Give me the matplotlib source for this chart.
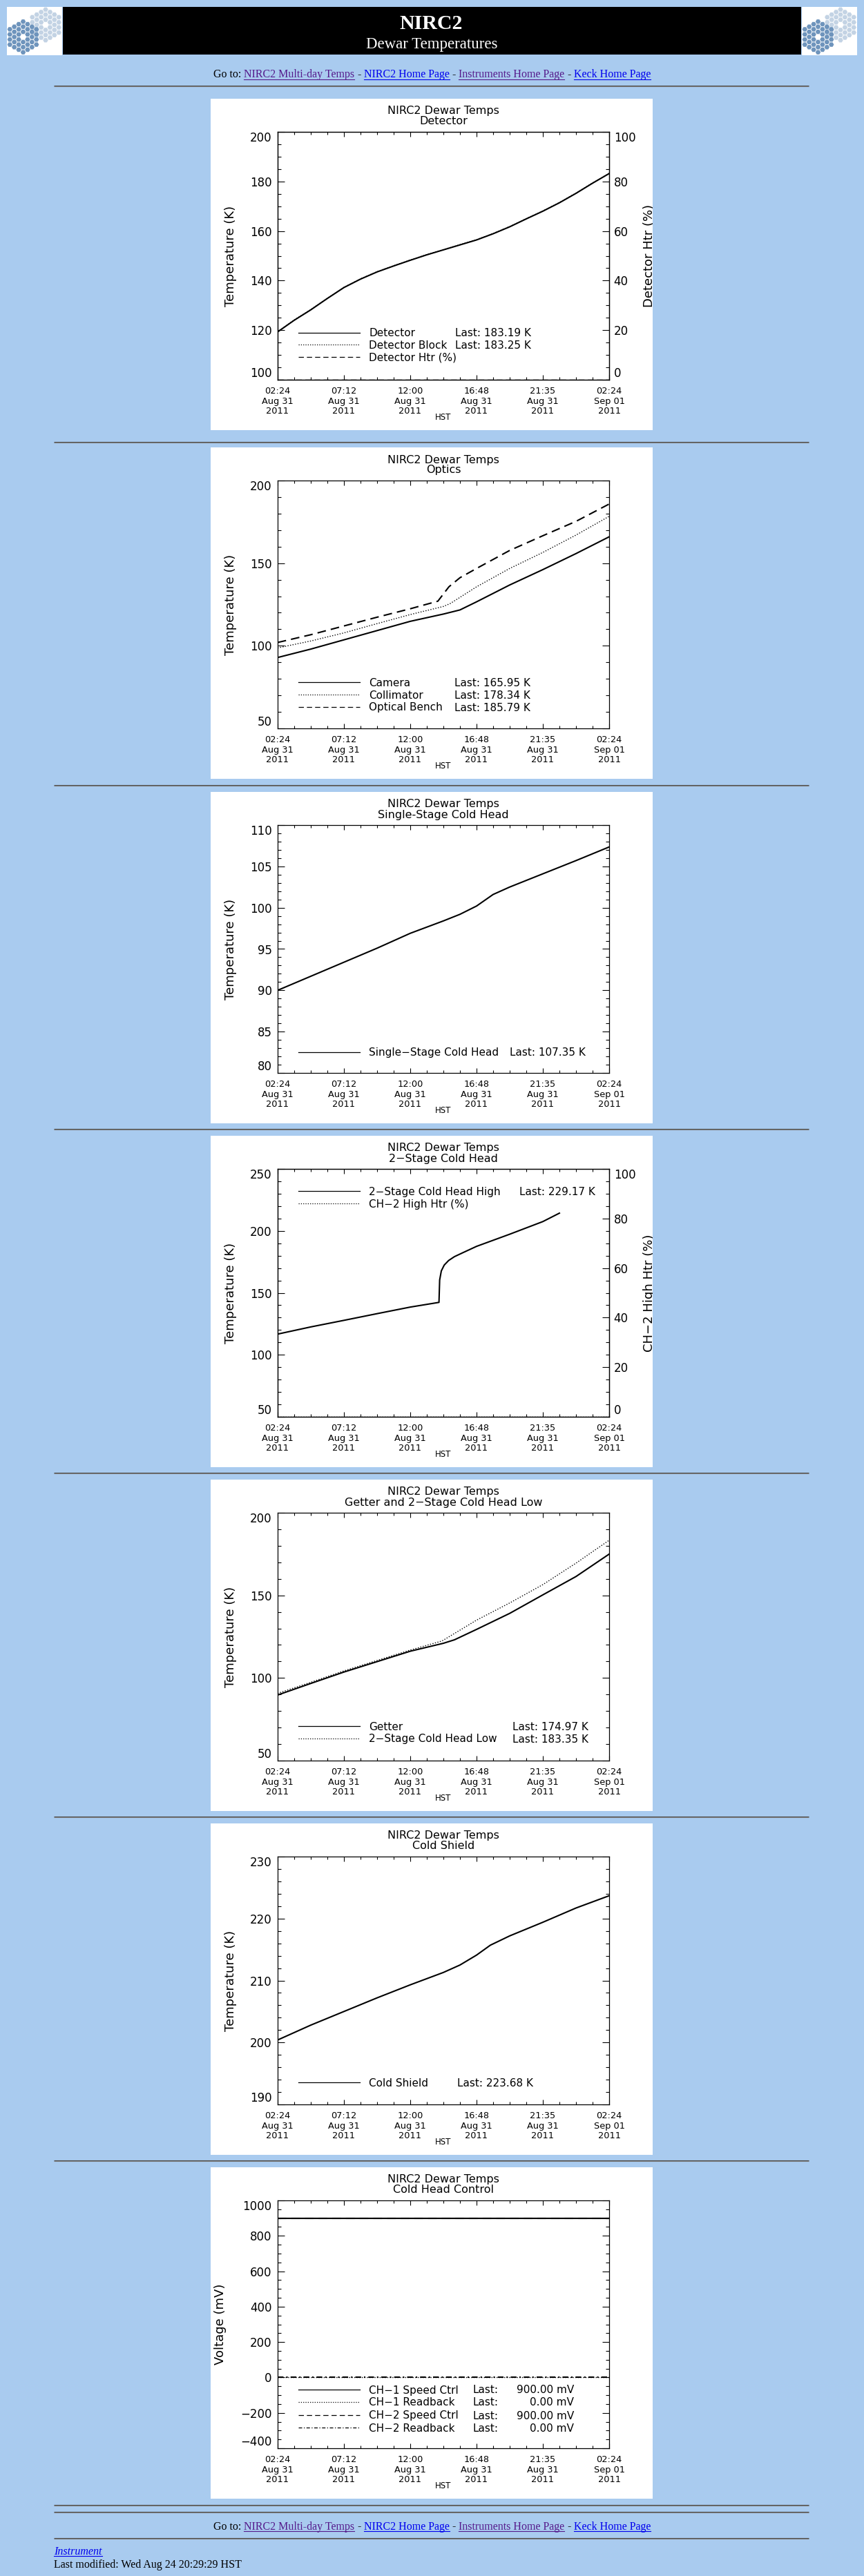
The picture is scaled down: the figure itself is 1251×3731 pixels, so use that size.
# NIRC2 Dewar Temperatures: pagina web con 7 graficos IDL de 640x480.
import numpy as np
import matplotlib
matplotlib.use("Agg")
import matplotlib.pyplot as plt
from matplotlib.patches import Rectangle, RegularPolygon
from matplotlib.ticker import FixedLocator, MultipleLocator

# 1. Datos (horas desde 02:24 HST del 31 ago 2011).
hours_tick = [0, 4.8, 9.6, 14.4, 19.2, 24]
tick_labels = ["02:24\nAug 31\n2011", "07:12\nAug 31\n2011", "12:00\nAug 31\n2011",
               "16:48\nAug 31\n2011", "21:35\nAug 31\n2011", "02:24\nSep 01\n2011"]

det_hours = [0, 1.2, 2.4, 3.6, 4.8, 6.0, 7.2, 8.4, 9.6, 10.8, 12.0,
             13.2, 14.4, 15.6, 16.8, 18.0, 19.2, 20.4, 21.6, 22.8, 24.0]
detector = [119.3, 124.0, 128.2, 132.8, 137.2, 140.6, 143.5, 145.9, 148.2, 150.4, 152.4,
            154.4, 156.4, 158.9, 161.7, 164.9, 168.0, 171.4, 175.2, 179.3, 183.19]
detector_block = [119.4, 124.1, 128.3, 132.9, 137.3, 140.7, 143.6, 146.0, 148.3, 150.5, 152.5,
                  154.5, 156.5, 159.0, 161.8, 165.0, 168.1, 171.5, 175.3, 179.4, 183.25]
htr_hours = [0, 24]
detector_htr = [0, 0]

cam_hours = [0, 2.4, 4.8, 7.2, 9.6, 12.0, 13.2, 14.4, 16.8, 19.2, 21.6, 24.0]
camera = [92.9, 98.0, 103.6, 109.2, 114.8, 119.2, 121.7, 126.6, 136.8, 146.1, 155.8, 165.95]
col_hours = [0, 2.4, 4.8, 7.2, 9.6, 12.0, 12.5, 14.4, 16.8, 19.2, 21.6, 24.0]
collimator = [98.7, 102.9, 107.8, 113.4, 118.9, 123.8, 125.6, 135.7, 146.8, 156.5, 167.0, 178.34]
bench_hours = [0, 2.4, 4.8, 7.2, 9.6, 11.6, 12.4, 13.2, 14.4, 16.8, 19.2, 21.6, 24.0]
optical_bench = [102.0, 106.7, 112.0, 117.3, 122.4, 127.0, 135.7, 141.2, 146.8, 157.7, 166.6, 175.3, 185.79]

ss_hours = [0, 2.4, 4.8, 7.2, 9.6, 12.0, 13.2, 14.4, 15.6, 16.8, 19.2, 21.6, 24.0]
single_stage = [90.0, 91.7, 93.4, 95.1, 96.9, 98.4, 99.2, 100.2, 101.6, 102.5, 104.1, 105.7, 107.35]

ts_hours = [0, 2.4, 4.8, 7.2, 9.6, 11.68, 11.73, 11.85, 12.06, 12.38, 12.8, 13.43,
            14.4, 16.8, 19.2, 20.4]
two_stage_high = [116.7, 122.5, 127.8, 133.2, 138.5, 142.3, 160.4, 167.7, 172.4, 176.1, 179.2, 182.5,
                  187.5, 197.3, 207.5, 214.3]
two_stage_high_last = 229.17
ch2_htr = [0, 0]

get_hours = [0, 2.4, 4.8, 7.2, 9.6, 12.0, 12.8, 14.4, 16.8, 19.2, 21.6, 24.0]
getter = [89.7, 96.7, 103.6, 109.9, 116.2, 121.0, 123.1, 129.4, 139.1, 150.3, 161.4, 174.97]
low_hours = [0, 2.4, 4.8, 7.2, 9.6, 11.9, 14.4, 16.8, 19.2, 21.6, 24.0]
two_stage_low = [90.7, 97.4, 104.3, 110.6, 116.9, 122.4, 135.0, 145.4, 156.5, 169.5, 183.35]

cs_hours = [0, 2.4, 4.8, 7.2, 9.6, 12.0, 13.2, 14.4, 15.4, 16.8, 19.2, 21.6, 24.0]
cold_shield = [200.4, 202.8, 205.0, 207.2, 209.3, 211.3, 212.5, 214.1, 215.7, 217.2, 219.4, 221.7, 223.68]

ctrl_hours = [0, 24]
ch1_speed = [900, 900]
ch1_readback = [0, 0]
ch2_speed = [900, 900]
ch2_readback = [0, 0]

# 2. Pagina.
W, H = 1251, 3731
BG = "#A9CBEF"
SERIF = "Liberation Serif"
fig = plt.figure(figsize=(W / 100, H / 100), dpi=100)
fig.patch.set_facecolor(BG)
renderer = fig.canvas.get_renderer()


def rect(x, y, w, h):
    return [x / W, 1 - (y + h) / H, w / W, h / H]


page = fig.add_axes([0, 0, 1, 1])
page.set_xlim(0, W)
page.set_ylim(H, 0)
page.axis("off")


def hr(y):
    page.plot([78, 1171], [y, y], color="#4e4e4e", lw=0.8, solid_capstyle="butt")
    page.plot([78, 1171], [y + 1.0, y + 1.0], color="#7c7c7c", lw=0.8, solid_capstyle="butt")


def text_width(s, size, style):
    t = page.text(0, 0, s, fontsize=size, family=SERIF, style=style)
    w = t.get_window_extent(renderer).width
    t.remove()
    return w


def inline(y, parts, x=None, size=11.5):
    gap = 4.0
    widths = [text_width(p[0], size, p[2]) for p in parts]
    total = sum(widths) + gap * (len(parts) - 1)
    if x is None:
        x = W / 2 - total / 2
    for (s, col, style, und), w in zip(parts, widths):
        page.text(x, y, s, color=col, fontsize=size, family=SERIF, style=style,
                  ha="left", va="baseline")
        if und:
            page.plot([x, x + w], [y + 2, y + 2], color=col, lw=0.8)
        x += w + gap


VISITED, LINK = "#551A8B", "#0000EE"
goto = [("Go to:", "black", "normal", False),
        ("NIRC2 Multi-day Temps", VISITED, "normal", True),
        ("-", "black", "normal", False),
        ("NIRC2 Home Page", LINK, "normal", True),
        ("-", "black", "normal", False),
        ("Instruments Home Page", VISITED, "normal", True),
        ("-", "black", "normal", False),
        ("Keck Home Page", LINK, "normal", True)]


def mirror(cx, cy, color, clip):
    R = 4.27
    for q in range(-3, 4):
        for r in range(-3, 4):
            s = -q - r
            if max(abs(q), abs(r), abs(s)) > 3 or (q == 0 and r == 0):
                continue
            hx = cx + 1.5 * R * q
            hy = cy + np.sqrt(3) * R * (r + q / 2)
            h = RegularPolygon((hx, hy), 6, radius=3.7, orientation=np.pi / 6,
                               facecolor=color, edgecolor="none")
            page.add_patch(h)
            h.set_clip_path(clip)


# 2.1. Cabecera.
page.add_patch(Rectangle((91, 10), 1069, 69, facecolor="black", edgecolor="none"))
for lx in (10, 1161):
    box = Rectangle((lx, 10), 80, 70, facecolor="white", edgecolor="none")
    page.add_patch(box)
    mirror(lx + 56, 36, "#C3D3E4", box)
    mirror(lx + 23.5, 53.5, "#6E94BC", box)
page.text(624, 41.7, "NIRC2", color="white", fontsize=21.5, family=SERIF,
          weight="bold", ha="center", va="baseline")
page.text(625, 70, "Dewar Temperatures", color="white", fontsize=16.5, family=SERIF,
          ha="center", va="baseline")
inline(112.5, goto)
hr(124)

# 3. Graficos.
PX, PW, PH = 305, 640, 480
AX_L, AX_T, AX_W, AX_H = 97, 48, 480, 359
STYLES = {"solid": dict(ls="-"), "dot": dict(ls=":"),
          "dash": dict(dashes=(6, 3.5)), "dashdot": dict(dashes=(4, 2, 1, 2))}

panels = [
    dict(top=143, sub="Detector", ylabel="Temperature (K)", ylim=(100, 200),
         yticks=[100, 120, 140, 160, 180, 200], yminor=5,
         lines=[(det_hours, detector, "solid"), (det_hours, detector_block, "dot")],
         twin=dict(label="Detector Htr (%)", lines=[(htr_hours, detector_htr, "dash")]),
         legend=[("solid", "Detector", f"Last: {detector[-1]:.2f} K"),
                 ("dot", "Detector Block", f"Last: {detector_block[-1]:.2f} K"),
                 ("dash", "Detector Htr (%)", "")],
         leg_y=[290.7, 308.3, 326], last_x=257),
    dict(top=648, sub="Optics", ylabel="Temperature (K)", ylim=(50, 200),
         yticks=[50, 100, 150, 200], yminor=10,
         lines=[(cam_hours, camera, "solid"), (col_hours, collimator, "dot"),
                (bench_hours, optical_bench, "dash")],
         legend=[("solid", "Camera", f"Last: {camera[-1]:.2f} K"),
                 ("dot", "Collimator", f"Last: {collimator[-1]:.2f} K"),
                 ("dash", "Optical Bench", f"Last: {optical_bench[-1]:.2f} K")],
         leg_y=[292, 310, 328], last_x=256),
    dict(top=1147, sub="Single-Stage Cold Head", ylabel="Temperature (K)", ylim=(80, 110),
         yticks=[80, 85, 90, 95, 100, 105, 110], yminor=1,
         lines=[(ss_hours, single_stage, "solid")],
         legend=[("solid", "Single\u2212Stage Cold Head", f"Last: {single_stage[-1]:.2f} K")],
         leg_y=[328.7], last_x=336),
    dict(top=1645, sub="2\u2212Stage Cold Head", ylabel="Temperature (K)", ylim=(50, 250),
         yticks=[50, 100, 150, 200, 250], yminor=10,
         lines=[(ts_hours, two_stage_high, "solid")],
         twin=dict(label="CH\u22122 High Htr (%)", lines=[(htr_hours, ch2_htr, "dot")]),
         legend=[("solid", "2\u2212Stage Cold Head High", f"Last: {two_stage_high_last:.2f} K"),
                 ("dot", "CH\u22122 High Htr (%)", "")],
         leg_y=[32.3, 50], last_x=350),
    dict(top=2143, sub="Getter and 2\u2212Stage Cold Head Low", ylabel="Temperature (K)",
         ylim=(50, 200), yticks=[50, 100, 150, 200], yminor=10,
         lines=[(get_hours, getter, "solid"), (low_hours, two_stage_low, "dot")],
         legend=[("solid", "Getter", f"Last: {getter[-1]:.2f} K"),
                 ("dot", "2\u2212Stage Cold Head Low", f"Last: {two_stage_low[-1]:.2f} K")],
         leg_y=[309, 327], last_x=340),
    dict(top=2641, sub="Cold Shield", ylabel="Temperature (K)", ylim=(190, 230),
         yticks=[190, 200, 210, 220, 230], yminor=2,
         lines=[(cs_hours, cold_shield, "solid")],
         legend=[("solid", "Cold Shield", f"Last: {cold_shield[-1]:.2f} K")],
         leg_y=[327], last_x=260),
    dict(top=3139, sub="Cold Head Control", ylabel="Voltage (mV)", ylab_x=14,
         ylim=(-400, 1000), yticks=[-400, -200, 0, 200, 400, 600, 800, 1000], yminor=50,
         lines=[(ctrl_hours, ch1_speed, "solid"), (ctrl_hours, ch1_readback, "dot"),
                (ctrl_hours, ch2_speed, "dash"), (ctrl_hours, ch2_readback, "dashdot")],
         legend=[("solid", "CH\u22121 Speed Ctrl", f"{ch1_speed[-1]:.2f} mV"),
                 ("dot", "CH\u22121 Readback", f"{ch1_readback[-1]:.2f} mV"),
                 ("dash", "CH\u22122 Speed Ctrl", f"{ch2_speed[-1]:.2f} mV"),
                 ("dashdot", "CH\u22122 Readback", f"{ch2_readback[-1]:.2f} mV")],
         leg_y=[274, 292, 311, 329], last_x=282, value_x=429),
]


def style_ticks(a, axis, major, minor):
    a.tick_params(axis=axis, which="major", direction="in", length=major, width=0.8)
    a.tick_params(axis=axis, which="minor", direction="in", length=minor, width=0.8)


def draw_panel(p):
    top = p["top"]
    fr = fig.add_axes(rect(PX, top, PW, PH))
    fr.set_xlim(0, PW)
    fr.set_ylim(PH, 0)
    fr.set_xticks([])
    fr.set_yticks([])
    for s in fr.spines.values():
        s.set_visible(False)
    fr.set_facecolor("white")
    cx = AX_L + AX_W / 2
    fr.text(cx, 22.5, "NIRC2 Dewar Temps", ha="center", va="baseline", fontsize=11.5)
    fr.text(cx, 37.5, p["sub"], ha="center", va="baseline", fontsize=11.5)
    fr.text(p.get("ylab_x", 29), AX_T + AX_H / 2, p["ylabel"], rotation=90,
            ha="center", va="center", fontsize=13)
    fr.text(cx, 465, "HST", ha="center", va="baseline", fontsize=8.5)

    # leyenda
    for (st, name, last), ry in zip(p["legend"], p["leg_y"]):
        y = AX_T + ry
        fr.plot([AX_L + 30, AX_L + 119], [y, y], color="black", lw=0.9, **STYLES[st])
        fr.text(AX_L + 132, y + 5.5, name, ha="left", va="baseline", fontsize=11)
        if not last:
            continue
        if "value_x" in p:
            fr.text(AX_L + p["last_x"], y + 5.5, "Last:", ha="left", va="baseline", fontsize=11)
            fr.text(AX_L + p["value_x"], y + 5.5, last, ha="right", va="baseline", fontsize=11)
        else:
            fr.text(AX_L + p["last_x"], y + 5.5, last, ha="left", va="baseline", fontsize=11)

    ax = fig.add_axes(rect(PX + AX_L, top + AX_T, AX_W, AX_H))
    ax.set_facecolor("none")
    for s in ax.spines.values():
        s.set_linewidth(0.9)
    for hrs, vals, st in p["lines"]:
        lw = 1.0 if st == "dot" else 1.5
        ax.plot(hrs, vals, color="black", lw=lw, **STYLES[st])
    ax.set_xlim(0, 24)
    ax.set_ylim(*p["ylim"])
    ax.xaxis.set_major_locator(FixedLocator(hours_tick))
    ax.set_xticklabels(tick_labels, fontsize=9.3, linespacing=1.15)
    ax.xaxis.set_minor_locator(MultipleLocator(1.2))
    ax.yaxis.set_major_locator(FixedLocator(p["yticks"]))
    ax.yaxis.set_minor_locator(MultipleLocator(p["yminor"]))
    twin = p.get("twin")
    ax.tick_params(axis="x", which="both", top=True, bottom=True, pad=7.5)
    ax.tick_params(axis="y", which="both", left=True, right=twin is None,
                   labelsize=12, pad=6)
    style_ticks(ax, "x", 5.2, 2.6)
    style_ticks(ax, "y", 7.0, 3.5)
    yt = ax.yaxis.get_major_ticks()
    yt[0].label1.set_va("bottom")
    yt[-1].label1.set_va("top")

    if twin:
        tw = ax.twinx()
        tw.set_ylim(0, 100)
        tw.yaxis.set_major_locator(FixedLocator([0, 20, 40, 60, 80, 100]))
        tw.yaxis.set_minor_locator(MultipleLocator(5))
        tw.tick_params(axis="y", which="both", right=True, left=False, labelsize=12, pad=4.8)
        style_ticks(tw, "y", 7.0, 3.5)
        for s in tw.spines.values():
            s.set_linewidth(0.9)
        for hrs, vals, st in twin["lines"]:
            tw.plot(hrs, vals, color="black", lw=1.0, **STYLES[st])
        tt = tw.yaxis.get_major_ticks()
        tt[0].label2.set_va("bottom")
        tt[-1].label2.set_va("top")
        fr.text(635, AX_T + AX_H / 2, twin["label"], rotation=90, ha="center",
                va="center", fontsize=13, clip_on=True)


for p in panels:
    draw_panel(p)

for y in (640, 1137, 1635, 2133, 2631, 3129):
    hr(y)

# 4. Pie de pagina.
hr(3628)
hr(3638)
inline(3663.5, goto)
hr(3676)
inline(3700, [("Instrument", LINK, "italic", True)], x=78)
inline(3719, [("Last modified: Wed Aug 24 20:29:29 HST", "black", "normal", False)], x=78)

fig.savefig("out.png", dpi=100, facecolor=BG)
